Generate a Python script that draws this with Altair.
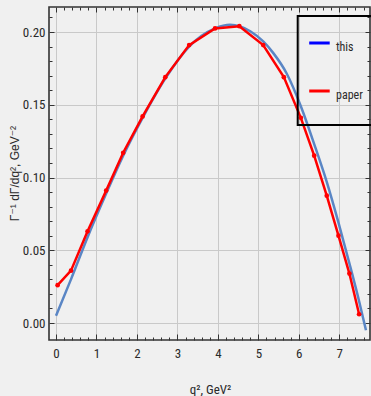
import altair as alt
import pandas as pd

# "this" curve
blue_x = [0.0, 0.37, 0.78, 1.24, 1.66, 2.14, 2.70, 3.29, 3.93, 4.30, 4.55, 4.80, 5.12, 5.37, 5.70, 6.05, 6.38, 6.69, 6.98, 7.25, 7.49, 7.66]
blue_y = [0.005, 0.030, 0.059, 0.089, 0.115, 0.141, 0.168, 0.190, 0.2025, 0.2050, 0.2038, 0.2005, 0.1935, 0.1855, 0.1715, 0.149, 0.123, 0.097, 0.069, 0.041, 0.015, -0.005]

# "paper" points
red_x = [0.04, 0.37, 0.78, 1.24, 1.66, 2.14, 2.70, 3.29, 3.93, 4.53, 5.12, 5.63, 6.05, 6.38, 6.69, 6.98, 7.25, 7.49]
red_y = [0.026, 0.036, 0.063, 0.091, 0.117, 0.142, 0.169, 0.191, 0.2025, 0.204, 0.191, 0.169, 0.141, 0.115, 0.0875, 0.060, 0.034, 0.006]

series_names = ["this", "paper"]
legend_colors = ["#0000ff", "#ff0000"]

x_major = [0, 1, 2, 3, 4, 5, 6, 7]
y_major = [0.0, 0.05, 0.10, 0.15, 0.20]
x_minor = [round(i * 0.2, 2) for i in range(0, 39)]
y_minor = [round(i * 0.01, 2) for i in range(0, 22)]

x_domain = [-0.173, 7.759]
y_domain = [-0.01168, 0.2172]

NARROW = "Liberation Sans Narrow, Roboto Condensed, Liberation Sans, sans-serif"
TICK = "#333333"

blue_df = pd.DataFrame({"x": blue_x, "y": blue_y, "series": series_names[0]})
red_df = pd.DataFrame({"x": red_x, "y": red_y, "series": series_names[1]})
both_df = pd.concat([blue_df, red_df], ignore_index=True)

xs = alt.Scale(domain=x_domain, nice=False, zero=False)
ys = alt.Scale(domain=y_domain, nice=False, zero=False)


def tick_axis(orient, values, size):
    return alt.Axis(orient=orient, values=values, tickSize=size, offset=-size,
                    labels=False, grid=False, domain=False, title=None,
                    tickColor=TICK, tickWidth=1)


main_blue = alt.Chart(blue_df).mark_line(color="#5a86c5", strokeWidth=2.5, interpolate="monotone").encode(
    x=alt.X("x:Q", scale=xs, axis=alt.Axis(
        orient="bottom", values=x_major, format="d", ticks=False, domain=False,
        grid=True, gridColor="#c9c9c9", gridWidth=1,
        labelFont=NARROW, labelFontSize=13, labelColor="#2a2a2a", labelPadding=7,
        title="q², GeV²", titleFont=NARROW, titleFontSize=13, titleFontWeight="normal",
        titleColor="#2a2a2a", titleX=161, titleY=53, titleBaseline="alphabetic")),
    y=alt.Y("y:Q", scale=ys, axis=alt.Axis(
        orient="left", values=y_major, format=".2f", ticks=False, domain=False,
        grid=True, gridColor="#c9c9c9", gridWidth=1,
        labelFont=NARROW, labelFontSize=13, labelColor="#2a2a2a", labelPadding=4,
        title="Γ⁻¹ dΓ/dq², GeV⁻²", titleFont="Liberation Sans, DejaVu Sans", titleFontSize=12,
        titleFontWeight="normal", titleColor="#2a2a2a", titleX=-35, titleY=166,
        titleAlign="center", titleBaseline="middle", titleAngle=-90)),
)

red_line = alt.Chart(red_df).mark_line(color="#ff0000", strokeWidth=2.5).encode(
    x=alt.X("x:Q", scale=xs, axis=tick_axis("bottom", x_major, 6)),
    y=alt.Y("y:Q", scale=ys, axis=tick_axis("left", y_major, 5)),
)

red_pts = alt.Chart(red_df).mark_circle(color="#ff0000", size=22, opacity=1).encode(
    x=alt.X("x:Q", scale=xs, axis=tick_axis("bottom", x_minor, 3)),
    y=alt.Y("y:Q", scale=ys, axis=tick_axis("left", y_minor, 3)),
)

top_major = alt.Chart(blue_df).mark_line(opacity=0).encode(
    x=alt.X("x:Q", scale=xs, axis=tick_axis("top", x_major, 5)),
    y=alt.Y("y:Q", scale=ys, axis=tick_axis("right", y_major, 5)),
)

top_minor = alt.Chart(blue_df).mark_line(opacity=0).encode(
    x=alt.X("x:Q", scale=xs, axis=tick_axis("top", x_minor, 3)),
    y=alt.Y("y:Q", scale=ys, axis=tick_axis("right", y_minor, 3)),
)

legend_layer = alt.Chart(both_df).mark_line(opacity=0).encode(
    x=alt.X("x:Q", scale=xs, axis=None),
    y=alt.Y("y:Q", scale=ys, axis=None),
    color=alt.Color("series:N", scale=alt.Scale(domain=series_names, range=legend_colors),
                    legend=alt.Legend(
                        orient="none", legendX=248.7, legendY=9, title=None,
                        symbolType="M-1,-0.17H0", symbolSize=1681, symbolStrokeWidth=3,
                        symbolOpacity=1, labelFont=NARROW, labelFontSize=12,
                        labelColor="#2a2a2a", labelOffset={"expr": "-15.7"}, rowPadding=7,
                        clipHeight=41,
                        padding=10, strokeColor="#000000")),
)

chart = alt.layer(main_blue, red_line, red_pts, top_major, top_minor, legend_layer).resolve_axis(
    x="independent", y="independent"
).properties(
    width=321, height=333,
    autosize=alt.AutoSizeParams(type="none"),
    padding={"left": 49, "top": 7, "right": 1, "bottom": 56},
    background="#f0f0f0",
).configure_view(
    stroke="#333333", strokeWidth=1.6, fill="#f0f0f0"
).configure_legend(
    strokeWidth=2
)

chart.save("out.html", embed_options={"renderer": "svg", "actions": False})
